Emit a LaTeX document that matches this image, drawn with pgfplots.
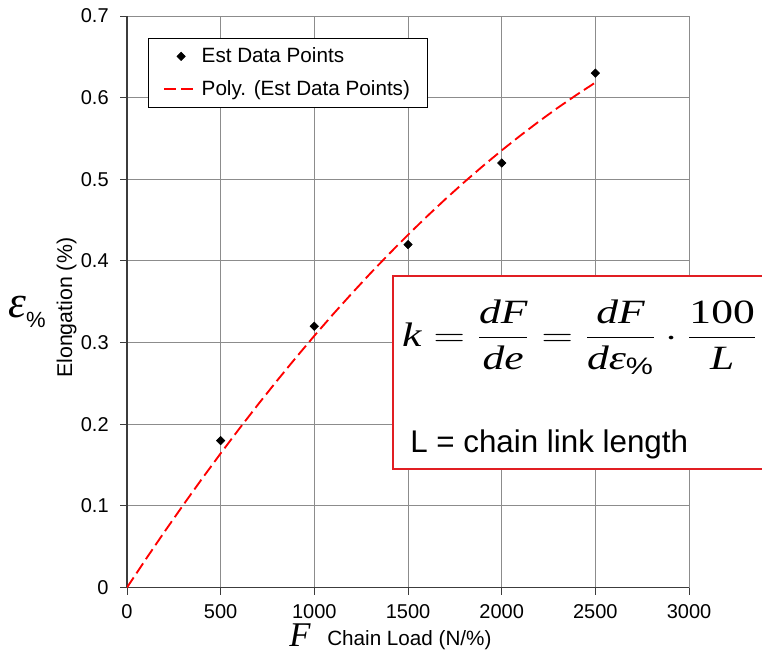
\RequirePackage{fix-cm}
\documentclass[border=0pt]{standalone}
\usepackage{graphicx}
\usepackage{pgfplots}
\pgfplotsset{compat=1.18}
\usepackage{amsmath}
\usepackage{fontspec}
\setmainfont{Liberation Sans}
\newfontfamily\tnr{Liberation Serif}
\newcommand{\ti}[1]{\text{\tnr\itshape #1}}
\definecolor{gridgray}{RGB}{140,140,140}
\definecolor{axisgray}{RGB}{60,60,60}
\definecolor{boxred}{RGB}{225,30,35}

\pgfplotsset{
  markleg/.style={legend image code/.code={\draw[mark repeat=2,mark phase=2,##1] plot coordinates {(0pt,0pt) (12.75pt,0pt) (25.5pt,0pt)};}},
  lineleg/.style={legend image code/.code={\draw[##1] (0pt,0pt) -- (25.5pt,0pt);}},
}

\pgfplotstableread{
x y
500 0.18
1000 0.32
1500 0.42
2000 0.52
2500 0.63
}\estdata

\pgfplotstableread{
x y
0 0
100 0.0345
200 0.0682
300 0.1010
400 0.1331
500 0.1643
600 0.1947
700 0.2243
800 0.2531
900 0.2811
1000 0.3083
1100 0.3347
1200 0.3602
1300 0.3850
1400 0.4089
1500 0.4320
1600 0.4543
1700 0.4758
1800 0.4965
1900 0.5163
2000 0.5354
2100 0.5536
2200 0.5711
2300 0.5877
2400 0.6035
2500 0.6185
}\polydata

\begin{document}
\begin{tikzpicture}[x=0.75pt,y=0.75pt]
\useasboundingbox (0,0) rectangle (762,652);
\begin{axis}[
  at={(95.25pt,48.375pt)}, anchor=south west,
  scale only axis, width=421.5pt, height=428.6pt,
  xmin=0, xmax=3000, ymin=0, ymax=0.7,
  xtick={0,500,1000,1500,2000,2500,3000},
  ytick={0,0.1,0.2,0.3,0.4,0.5,0.6,0.7},
  grid=major, major grid style={gridgray, line width=0.75pt},
  axis x line*=bottom, axis y line*=left,
  axis line style={axisgray, line width=0.9pt, -},
  tick pos=left, tick align=outside, major tick length=5.25pt,
  tick style={axisgray, line width=0.75pt},
  ticklabel style={font=\fontsize{15}{17}\selectfont},
  xticklabel style={yshift=-4pt},
  yticklabel style={xshift=-5pt,/pgf/number format/fixed,/pgf/number format/precision=1},
  /pgf/number format/assume math mode=true,
  /pgf/number format/1000 sep={},
  legend style={at={(0.0374,0.9615)}, anchor=north west, draw=black, line width=0.75pt,
    fill=white, font=\fontsize{15.5}{17}\selectfont, inner xsep=11pt, inner ysep=5pt,
    row sep=8pt},
  legend cell align=left,
]
\addplot[only marks, mark=square*, mark size=2.2pt, mark options={rotate=45}, black, line width=0.5pt, markleg]
  table[x=x,y=y] {\estdata};
\addlegendentry{Est Data Points}
\addplot[red, line width=1.4pt, dash pattern=on 9pt off 3.75pt, no marks, lineleg]
  table[x=x,y=y] {\polydata};
\addlegendentry{Poly. (Est Data Points)}
\end{axis}

% formula box
\filldraw[fill=white, draw=boxred, line width=1.5pt] (393,183) rectangle (775,376);
\node[inner sep=0] at (579.5,315) {\resizebox{266pt}{\height}{\fontsize{25.5}{30}\selectfont
  $\displaystyle \ti{k} = \frac{\ti{dF}}{\ti{de}} = \frac{\ti{dF}}{\ti{dε}_{\text{\%}}}\cdot\frac{\text{\tnr 100}}{\ti{L}}$}};
\node[anchor=base west, inner sep=0, font=\fontsize{23.5}{28}\selectfont] at (410,199) {L = chain link length};

% y label
\node[anchor=base west, inner sep=0] at (8,334) {\fontsize{34}{40}\selectfont\tnr\itshape ε\raisebox{-7.5pt}{\fontsize{16.5}{20}\selectfont\normalfont\%}};
\node[rotate=90, anchor=base west, inner sep=0, font=\fontsize{16}{18}\selectfont] at (72,274) {Elongation (\%)};

% x label
\node[anchor=base west, inner sep=0] at (289,6) {\fontsize{26}{29}\selectfont\tnr\itshape F};
\node[anchor=base west, inner sep=0, font=\fontsize{15.5}{17}\selectfont] at (327,7) {Chain Load (N/\%)};
\end{tikzpicture}
\end{document}
